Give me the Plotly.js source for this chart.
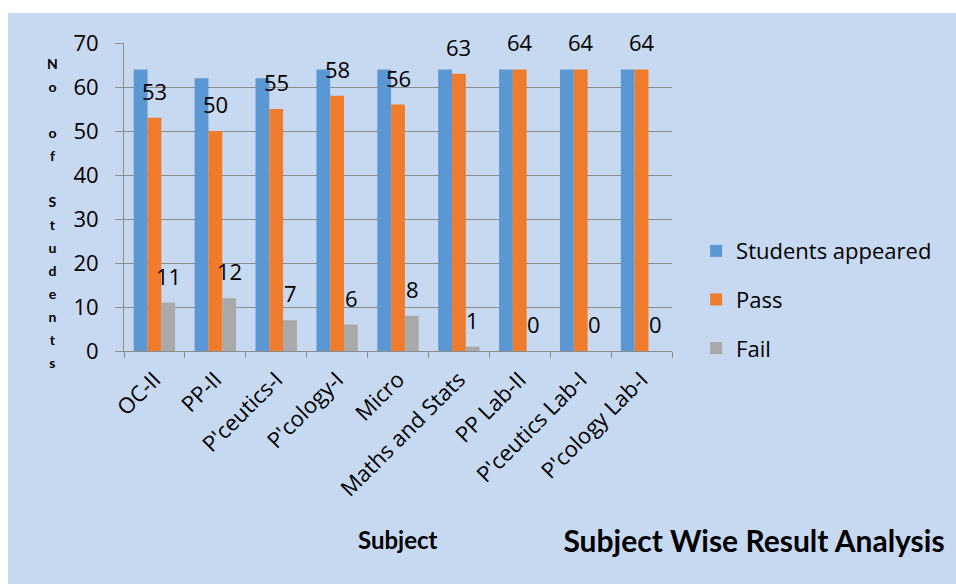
<!DOCTYPE html>
<html>
<head>
<meta charset="utf-8">
<script src="https://cdn.plot.ly/plotly-3.0.1.min.js"></script>
<style>
html,body{margin:0;padding:0;background:#ffffff;}
#chart{position:absolute;left:8px;top:13px;width:948px;height:571px;}
</style>
</head>
<body>
<div id="chart"></div>
<script>
var subjects = ["OC-II", "PP-II", "P'ceutics-I", "P'cology-I", "Micro", "Maths and Stats", "PP Lab-II", "P'ceutics Lab-I", "P'cology Lab-I"];
var appeared = [64, 62, 62, 64, 64, 64, 64, 64, 64];
var pass = [53, 50, 55, 58, 56, 63, 64, 64, 64];
var fail = [11, 12, 7, 6, 8, 1, 0, 0, 0];
var yTicks = [0, 10, 20, 30, 40, 50, 60, 70];
var yTitleText = "No of Students";
var xTitleText = "Subject";
var chartTitle = "Subject Wise Result Analysis";

var FONT = "'Open Sans', sans-serif";
var BOLD = "Lato, 'Open Sans', sans-serif";

var traces = [
  {type: "bar", name: "Students appeared", x: subjects, y: appeared, legendgroup: "a",
   marker: {color: "#5a97d3"}, hoverinfo: "x+y+name"},
  {type: "bar", name: "Pass", x: subjects, y: pass, legendgroup: "b",
   marker: {color: "#ef7c2c"}, hoverinfo: "x+y+name"},
  {type: "bar", name: "Fail", x: subjects, y: fail, legendgroup: "c",
   marker: {color: "#a9a9a9"}, hoverinfo: "x+y+name"}
];

var annotations = [];
function addLabels(vals, shift) {
  for (var i = 0; i < subjects.length; i++) {
    annotations.push({
      x: subjects[i], y: vals[i], xref: "x", yref: "y",
      text: String(vals[i]), showarrow: false,
      xanchor: "center", yanchor: "middle",
      xshift: shift, yshift: 27,
      font: {family: FONT, size: 22, color: "#000000"}
    });
  }
}
addLabels(pass, 0);
addLabels(fail, 14);

// stacked vertical y-axis title, one character per line
var letters = yTitleText.split("").map(function (c) {
  return '<span style="font-size:14px">' + (c === " " ? "\u00a0" : c) + '</span>';
});
annotations.push({
  xref: "paper", yref: "paper", x: -0.131, y: 0.449,
  xanchor: "center", yanchor: "middle", showarrow: false,
  text: "<b>" + letters.join("<br>") + "</b>",
  font: {family: BOLD, size: 17.7, color: "#000000"}
});

annotations.push({
  xref: "paper", yref: "paper", x: 0.5, y: -0.613,
  xanchor: "center", yanchor: "middle", showarrow: false,
  text: "<b>" + xTitleText + "</b>",
  font: {family: BOLD, size: 24, color: "#000000"}
});

var layout = {
  width: 948, height: 571,
  paper_bgcolor: "#c6d9f1",
  plot_bgcolor: "#c6d9f1",
  margin: {l: 116, r: 284, t: 30, b: 233},
  barmode: "group",
  bargap: 0.32,
  bargroupgap: 0,
  showlegend: true,
  legend: {
    x: 1.044, xanchor: "left", y: 0.167, yanchor: "middle",
    bgcolor: "rgba(0,0,0,0)",
    traceorder: "grouped", tracegroupgap: 17,
    font: {family: FONT, size: 22, color: "#000000"}
  },
  title: {
    text: "<b>" + chartTitle + "</b>",
    xref: "container", yref: "container",
    x: 0.988, xanchor: "right", y: 0.075, yanchor: "middle",
    font: {family: BOLD, size: 30, color: "#000000"}
  },
  xaxis: {
    type: "category",
    showgrid: false,
    showline: true, linecolor: "#8c8c8c", linewidth: 1,
    ticks: "outside", tickson: "boundaries", ticklen: 6, tickcolor: "#8c8c8c",
    tickangle: -45,
    ticklabelstandoff: 6,
    tickfont: {family: FONT, size: 22, color: "#000000"},
    fixedrange: true
  },
  yaxis: {
    range: [0, 70],
    tickvals: yTicks,
    showgrid: true, gridcolor: "#8c8c8c", gridwidth: 1,
    showline: true, linecolor: "#8c8c8c", linewidth: 1,
    zeroline: false,
    ticks: "outside", ticklen: 8, tickcolor: "#8c8c8c",
    ticklabelstandoff: 12,
    tickfont: {family: FONT, size: 22, color: "#000000"},
    fixedrange: true
  },
  annotations: annotations
};

Plotly.newPlot("chart", traces, layout, {displayModeBar: false, staticPlot: true});
</script>
</body>
</html>
